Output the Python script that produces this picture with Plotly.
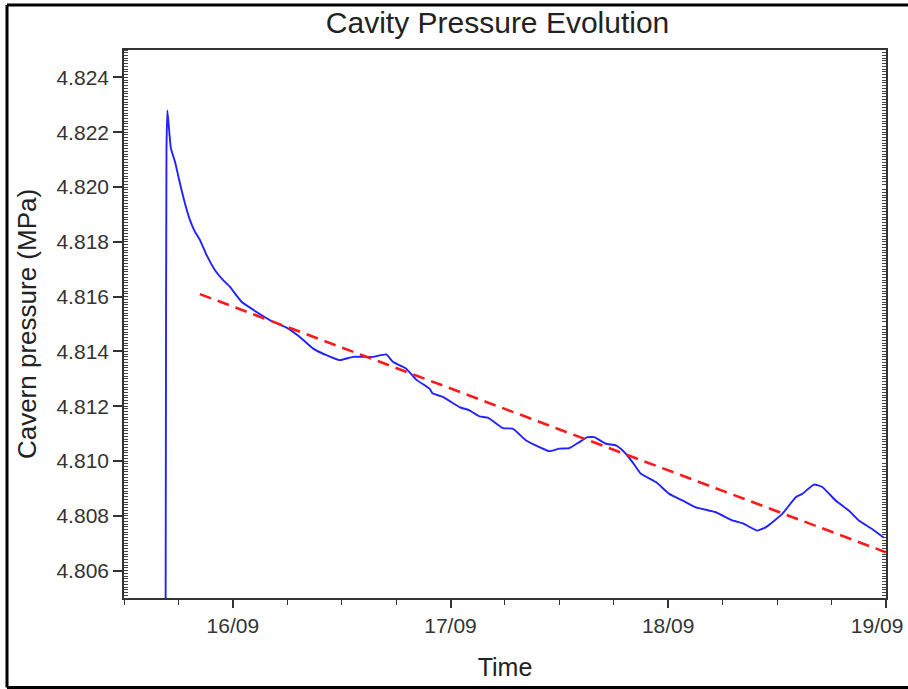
import plotly.graph_objects as go

# ---- data ----
time = [
    "2015-09-15 16:34", "2015-09-15 16:37", "2015-09-15 16:41", "2015-09-15 16:47",
    "2015-09-15 17:10", "2015-09-15 17:37", "2015-09-15 18:10", "2015-09-15 18:43",
    "2015-09-15 19:16", "2015-09-15 19:49", "2015-09-15 20:22", "2015-09-15 21:06",
    "2015-09-15 22:01", "2015-09-15 22:56", "2015-09-15 23:40", "2015-09-16 00:58",
    "2015-09-16 02:37", "2015-09-16 04:26", "2015-09-16 05:55", "2015-09-16 07:23",
    "2015-09-16 08:50", "2015-09-16 10:19", "2015-09-16 11:47", "2015-09-16 13:15",
    "2015-09-16 15:27", "2015-09-16 16:55", "2015-09-16 17:39", "2015-09-16 19:07",
    "2015-09-16 20:13", "2015-09-16 21:41", "2015-09-16 22:03", "2015-09-16 23:09",
    "2015-09-17 00:59", "2015-09-17 02:05", "2015-09-17 03:11", "2015-09-17 04:07",
    "2015-09-17 05:46", "2015-09-17 06:52", "2015-09-17 08:20", "2015-09-17 09:48",
    "2015-09-17 10:54", "2015-09-17 12:00", "2015-09-17 13:06", "2015-09-17 14:12",
    "2015-09-17 15:07", "2015-09-17 15:51", "2015-09-17 17:08", "2015-09-17 18:14",
    "2015-09-17 19:09", "2015-09-17 20:04", "2015-09-17 20:59", "2015-09-17 22:39",
    "2015-09-18 00:07", "2015-09-18 01:35", "2015-09-18 03:03", "2015-09-18 05:15",
    "2015-09-18 07:05", "2015-09-18 08:11", "2015-09-18 09:50", "2015-09-18 10:45",
    "2015-09-18 12:35", "2015-09-18 14:04", "2015-09-18 14:47", "2015-09-18 16:04",
    "2015-09-18 16:59", "2015-09-18 18:28", "2015-09-18 19:55", "2015-09-18 21:01",
    "2015-09-18 22:29", "2015-09-18 23:47",
]
pressure = [
    4.8000, 4.81064, 4.8214, 4.82279,
    4.82142, 4.82093, 4.82014, 4.81941,
    4.81880, 4.81837, 4.81807, 4.81752,
    4.81697, 4.81660, 4.81636, 4.81581,
    4.81544, 4.81508, 4.81487, 4.81453,
    4.81411, 4.81386, 4.81368, 4.81380,
    4.81380, 4.81389, 4.81362, 4.81337,
    4.81297, 4.81264, 4.81246, 4.81234,
    4.81197, 4.81185, 4.81163, 4.81158,
    4.81120, 4.81118, 4.81075, 4.81051,
    4.81036, 4.81045, 4.81047, 4.81069,
    4.81087, 4.81087, 4.81063, 4.81057,
    4.81033, 4.80996, 4.80954, 4.80923,
    4.80880, 4.80856, 4.80831, 4.80813,
    4.80783, 4.80773, 4.80746, 4.80758,
    4.80807, 4.80868, 4.80880, 4.80914,
    4.80905, 4.80856, 4.80819, 4.80783,
    4.80752, 4.80720,
]
trend_time = ["2015-09-15 20:22", "2015-09-19 00:00"]
trend_pressure = [4.81609, 4.80667]

x_range = ["2015-09-15 12:00", "2015-09-19 00:01"]
x_tickvals = ["2015-09-16", "2015-09-17", "2015-09-18", "2015-09-19"]
x_ticktext = ["16/09", "17/09", "18/09", "19/09\u00a0\u00a0\u00a0"]
y_range = [4.805, 4.825]
y_tickvals = [4.806, 4.808, 4.810, 4.812, 4.814, 4.816, 4.818, 4.820, 4.822, 4.824]
y_ticktext = ["4.806", "4.808", "4.810", "4.812", "4.814", "4.816", "4.818", "4.820", "4.822", "4.824"]

FONT = "Liberation Sans, Arial, sans-serif"

fig = go.Figure()
fig.add_trace(go.Scatter(x=time, y=pressure, mode="lines", line_shape="spline",
                         line=dict(color="#2222ff", width=1.9, smoothing=0.4), showlegend=False))
fig.add_trace(go.Scatter(x=trend_time, y=trend_pressure, mode="lines",
                         line=dict(color="#ff1a1a", width=2.6, dash="12px,7px"),
                         showlegend=False))

fig.update_layout(
    width=908, height=689,
    margin=dict(l=124, r=22, t=50, b=91, autoexpand=False),
    paper_bgcolor="white", plot_bgcolor="white",
    font=dict(family=FONT, color="#333333"),
    title=dict(text="Cavity Pressure Evolution", x=0.548, xanchor="center",
               y=1 - 22 / 689, yanchor="middle", yref="container",
               font=dict(size=30, color="#222222", family=FONT)),
    xaxis=dict(
        type="date", range=x_range, automargin=False,
        tickmode="array", tickvals=x_tickvals, ticktext=x_ticktext,
        ticklabeloverflow="allow",
        ticks="outside", ticklen=8, tickwidth=1.5, tickcolor="#333",
        minor=dict(tickmode="linear", tick0="2015-09-16", dtick=6 * 3600000,
                   ticks="outside", ticklen=5, tickwidth=1.3, tickcolor="#333"),
        showline=True, linecolor="#333", linewidth=1.6, mirror=True,
        showgrid=False, zeroline=False,
        tickfont=dict(size=21, color="#333"),
        title=dict(text="Time", font=dict(size=25, color="#222"), standoff=22),
    ),
    yaxis=dict(
        range=y_range, tickvals=y_tickvals, ticktext=y_ticktext, automargin=False,
        ticks="outside", ticklen=9, tickwidth=1.5, tickcolor="#333",
        minor=dict(tickmode="linear", dtick=0.0001, tick0=4.805, ticks="inside", ticklen=4,
                   tickwidth=1, tickcolor="#444"),
        showline=True, linecolor="#333", linewidth=1.6, mirror=True,
        showgrid=False, zeroline=False,
        tickfont=dict(size=21, color="#333"),
        title=dict(text="Cavern pressure (MPa)", font=dict(size=26, color="#222"), standoff=12),
    ),
    yaxis2=dict(
        range=y_range, overlaying="y", side="right", showticklabels=False, automargin=False,
        ticks="", showgrid=False, zeroline=False, showline=False,
        minor=dict(tickmode="linear", dtick=0.0001, tick0=4.805, ticks="inside", ticklen=4,
                   tickwidth=1, tickcolor="#444"),
    ),
)

# outer frame of the figure: left, top and bottom edges (right edge is cut off in the reference)
pw, ph = 762.0, 548.0
fx0, fx1 = (7 - 124) / pw, (908 - 124) / pw
fy0, fy1 = (598 - 687.5) / ph, (598 - 5) / ph
frame = dict(color="black", width=3)
fig.add_shape(type="line", xref="paper", yref="paper", x0=fx0, x1=fx0, y0=fy0, y1=fy1, line=frame, layer="above")
fig.add_shape(type="line", xref="paper", yref="paper", x0=fx0, x1=fx1, y0=fy1, y1=fy1, line=frame, layer="above")
fig.add_shape(type="line", xref="paper", yref="paper", x0=fx0, x1=fx1, y0=fy0, y1=fy0, line=frame, layer="above")

# invisible helper trace so that the right-hand axis is drawn
fig.add_trace(go.Scatter(x=[x_range[0]], y=[y_range[0]], yaxis="y2", mode="markers",
                         marker=dict(opacity=0), showlegend=False, hoverinfo="skip"))

fig.write_html("out.html", config={"displayModeBar": False},
               post_script="document.body.style.margin='0';document.body.style.padding='0';document.body.style.overflow='hidden';")
